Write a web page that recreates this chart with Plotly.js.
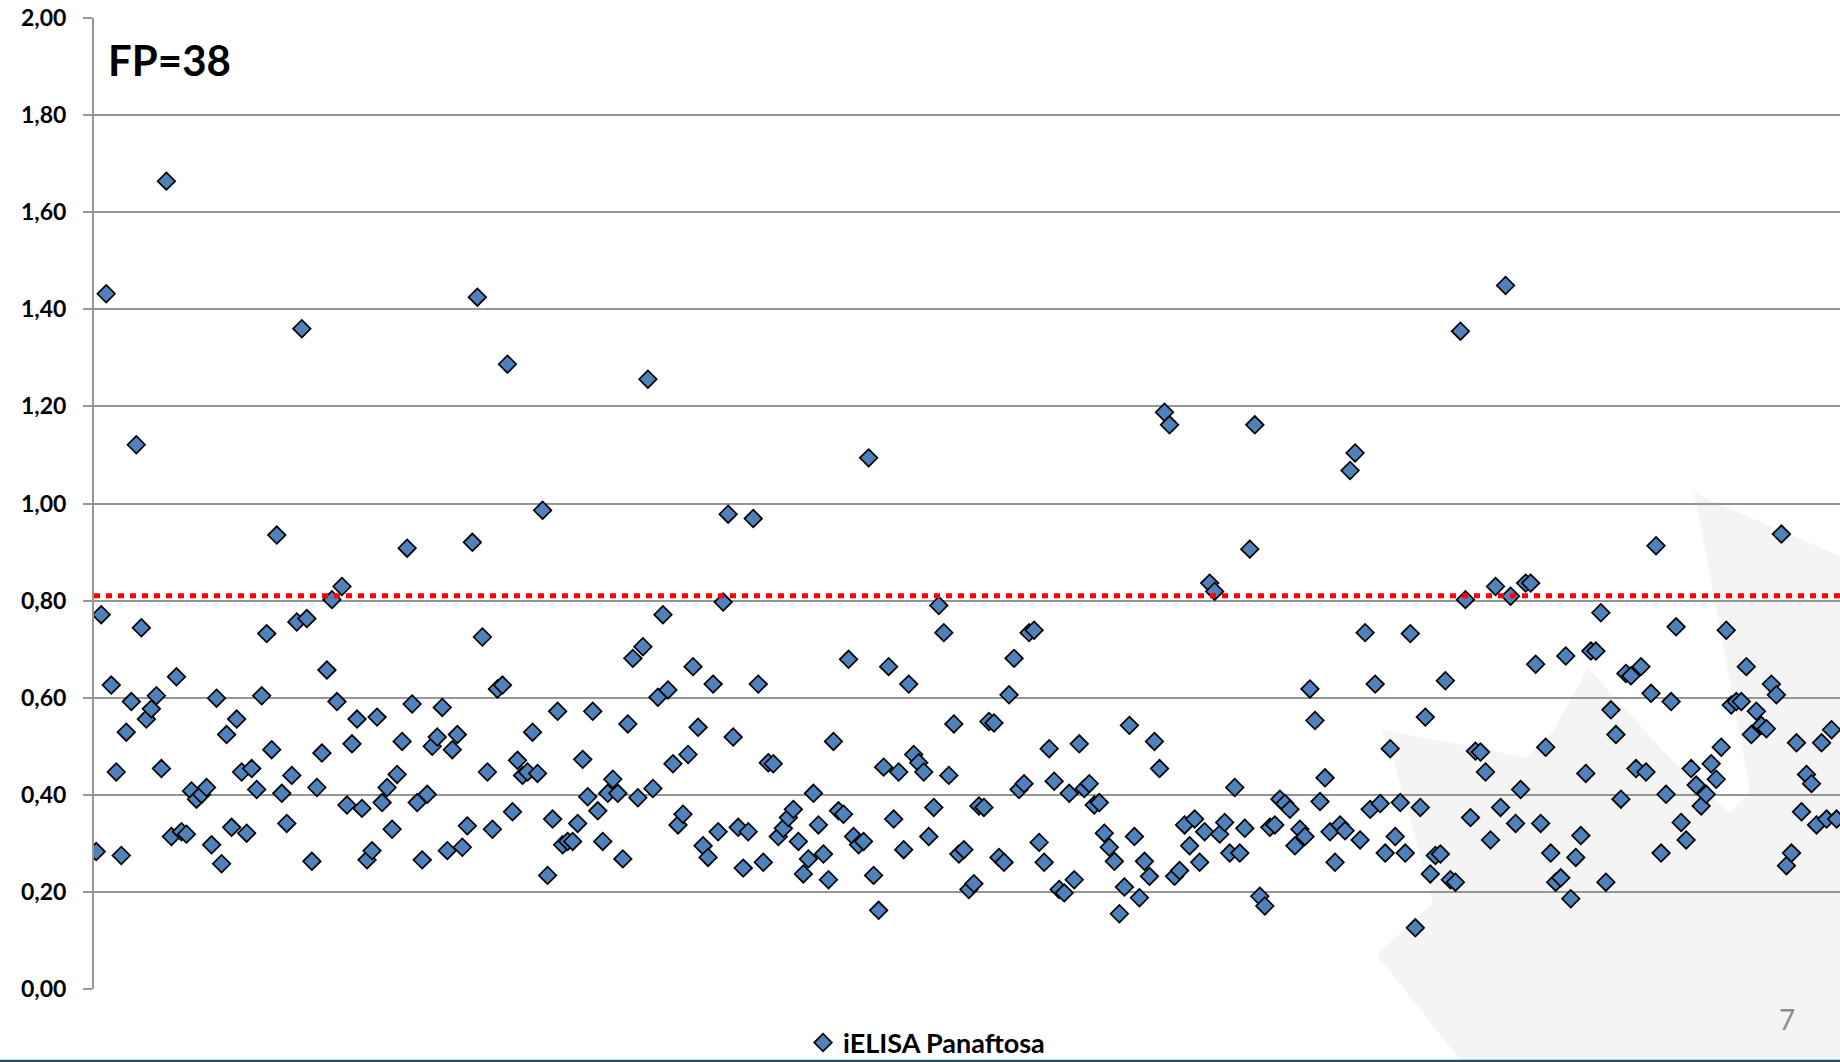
<!DOCTYPE html>
<html>
<head>
<meta charset="utf-8">
<script src="https://cdn.plot.ly/plotly-3.0.1.min.js"></script>
<style>
html,body{margin:0;padding:0;background:#fff;overflow:hidden;}
#chart{width:1840px;height:1062px;}
</style>
</head>
<body>
<div id="chart"></div>
<script>
// iELISA Panaftosa readings (optical density ratio), in sample order
const seriesName = "iELISA Panaftosa";
const annotationText = "FP=38";
const cutoff = 0.81;
const yTicks = [0,0.2,0.4,0.6,0.8,1.0,1.2,1.4,1.6,1.8,2.0];
const yTickLabels = ["0,00","0,20","0,40","0,60","0,80","1,00","1,20","1,40","1,60","1,80","2,00"];

const valuesPart1 = [0.283,0.771,1.432,0.626,0.447,0.275,0.529,0.592,1.121,0.744,0.556,0.577,0.604,0.454,1.664,0.314,0.643,0.324,0.319,0.408,0.391,0.401,0.415,0.297,0.599,0.258,0.524,0.333,0.556,0.447,0.321,0.454,0.411,0.604,0.732,0.493,0.935,0.403,0.341,0.440,0.756,1.360,0.763,0.263];
const valuesPart2 = [0.415,0.486,0.657,0.802,0.592,0.829,0.379,0.505,0.556,0.372,0.266,0.285,0.560,0.384,0.415,0.329,0.442,0.510,0.908,0.587,0.384,0.266,0.401,0.500,0.519,0.580,0.285,0.493,0.524,0.292,0.336,0.920,1.425,0.725,0.447,0.329,0.618,0.626,1.287,0.365,0.471,0.440,0.447,0.529,0.444,0.986,0.234,0.350,0.572,0.297,0.304,0.304,0.341,0.473,0.396,0.572,0.367,0.304,0.403,0.432,0.403,0.268,0.546,0.681,0.394,0.705,1.256,0.413,0.601,0.771,0.616,0.464,0.338,0.360,0.483,0.664,0.539,0.295,0.271,0.628,0.324,0.797,0.978,0.519,0.333,0.249,0.324,0.969,0.628,0.261,0.466,0.464];
const valuesPart3 = [0.314,0.331,0.353,0.370,0.304,0.237,0.268,0.403,0.338,0.278,0.225,0.510,0.367,0.360,0.679,0.314,0.297,0.304,1.094,0.234,0.162,0.457,0.664,0.350,0.447,0.287,0.628,0.483,0.466,0.447,0.314,0.374,0.790,0.734,0.440,0.546,0.278,0.287,0.205,0.217,0.377,0.374,0.551,0.548,0.271,0.261,0.606,0.681,0.411,0.423,0.734,0.739,0.302,0.261,0.495,0.428,0.205,0.198,0.403,0.225,0.505,0.413,0.423,0.379,0.384,0.321,0.292,0.263,0.155,0.210,0.543,0.314,0.188,0.263,0.232,0.510,0.454,1.188,1.162];
const valuesPart4 = [0.232,0.244,0.338,0.295,0.350,0.261,0.324,0.836,0.819,0.319,0.343,0.280,0.415,0.280,0.331,0.906,1.162,0.191,0.171,0.333,0.338,0.391,0.382,0.370,0.295,0.329,0.314,0.618,0.553,0.386,0.435,0.324,0.261,0.338,0.326,1.068,1.104,0.307,0.734,0.370,0.628,0.382,0.280,0.495,0.314,0.384,0.280,0.732,0.126,0.374,0.560,0.237,0.275,0.278,0.635,0.225,0.220,1.355,0.802,0.353,0.490,0.488,0.447,0.307,0.829,0.374,1.449,0.809,0.341,0.411,0.836,0.836,0.669,0.341,0.498,0.280,0.220,0.229,0.686,0.186,0.271,0.316,0.444,0.696,0.696,0.775,0.220,0.575,0.524,0.391];
const valuesPart5 = [0.650,0.645,0.454,0.664,0.447,0.609,0.913,0.280,0.401,0.592,0.746,0.343,0.307,0.454,0.420,0.377,0.401,0.464,0.432,0.498,0.739,0.585,0.592,0.592,0.664,0.524,0.572,0.543,0.536,0.628,0.606,0.937,0.254,0.280,0.507,0.365,0.442,0.423,0.338,0.507,0.350,0.534,0.350];

const values = [].concat(valuesPart1, valuesPart2, valuesPart3, valuesPart4, valuesPart5);
const sampleNo = values.map((v, i) => i + 1);

// layout geometry (pixels)
const W = 1840, H = 1062;
const mL = 94, mT = 18, mB = 73, mR = 0;
const plotW = W - mL - mR, plotH = H - mT - mB;
const N = values.length;
const firstPx = 96.2, lastPx = 1836.6;
const step = (lastPx - firstPx) / (N - 1);
const xMin = 1 - (firstPx - mL) / step;
const xMax = N + (W - mR - lastPx) / step;

function px(x){ return (x - mL) / plotW; }
function py(y){ return (H - mB - y) / plotH; }

// watermark leaf outline (pixel coordinates)
const leafPts = [[1694,493],[1840,556],[1840,1062],[1462,1062],[1377,955],[1433,903],[1397,773],[1382,730],[1490,750],[1525,758],[1552,733],[1588,668],[1665,753],[1730,813],[1750,790],[1707,560]];
const leafPath = leafPts.map((p, i) => (i ? "L" : "M") + px(p[0]).toFixed(4) + "," + py(p[1]).toFixed(4)).join(" ") + " Z";

const font = "Lato, 'Open Sans', sans-serif";

const trace = {
  type: "scatter",
  mode: "markers",
  name: seriesName,
  x: sampleNo,
  y: values,
  marker: {symbol: "diamond", size: 13.5, color: "#4f81bd", line: {color: "#000", width: 1.7}},
  hoverinfo: "none"
};

const layout = {
  width: W, height: H,
  margin: {l: mL, r: mR, t: mT, b: mB, pad: 0, autoexpand: false},
  paper_bgcolor: "#fff",
  plot_bgcolor: "rgba(0,0,0,0)",
  separators: ",.",
  showlegend: true,
  legend: {
    orientation: "h",
    x: px(803), xanchor: "left",
    y: py(1043), yanchor: "middle",
    font: {family: font, size: 27, color: "#000", weight: 700},
    bgcolor: "rgba(0,0,0,0)",
    borderwidth: 0,
    itemsizing: "trace"
  },
  xaxis: {
    range: [xMin, xMax],
    showgrid: false, zeroline: false, showline: false,
    showticklabels: false, ticks: "",
    fixedrange: true
  },
  yaxis: {
    range: [0, 2],
    tickvals: yTicks,
    ticktext: yTickLabels,
    showgrid: true, gridcolor: "#969696", gridwidth: 2,
    zeroline: false,
    showline: true, linecolor: "#969696", linewidth: 2,
    ticks: "outside", ticklen: 9, tickwidth: 2, tickcolor: "#969696",
    ticklabelstandoff: 12,
    tickfont: {family: font, size: 23, color: "#000", weight: 700},
    fixedrange: true
  },
  shapes: [
    {type: "path", xref: "paper", yref: "paper", path: leafPath, fillcolor: "#f4f4f4", line: {width: 0}, layer: "below"},
    {type: "line", xref: "paper", yref: "y", x0: 0, x1: 1, y0: cutoff, y1: cutoff, line: {color: "#ff0000", width: 5, dash: "6px,6px"}, layer: "above"},
    {type: "line", xref: "paper", yref: "paper", x0: px(0), x1: px(1840), y0: py(1061), y1: py(1061), line: {color: "#1f4e68", width: 2.5}}
  ],
  annotations: [
    {xref: "paper", yref: "paper", x: px(106), y: py(60), xanchor: "left", yanchor: "middle", text: annotationText, showarrow: false, font: {family: font, size: 42, color: "#000", weight: 700}},
    {xref: "paper", yref: "paper", x: px(1787), y: py(1019), xanchor: "center", yanchor: "middle", text: "7", showarrow: false, font: {family: font, size: 28, color: "#8c8c8c"}}
  ]
};

Plotly.newPlot("chart", [trace], layout, {displayModeBar: false, staticPlot: true});
</script>
</body>
</html>
